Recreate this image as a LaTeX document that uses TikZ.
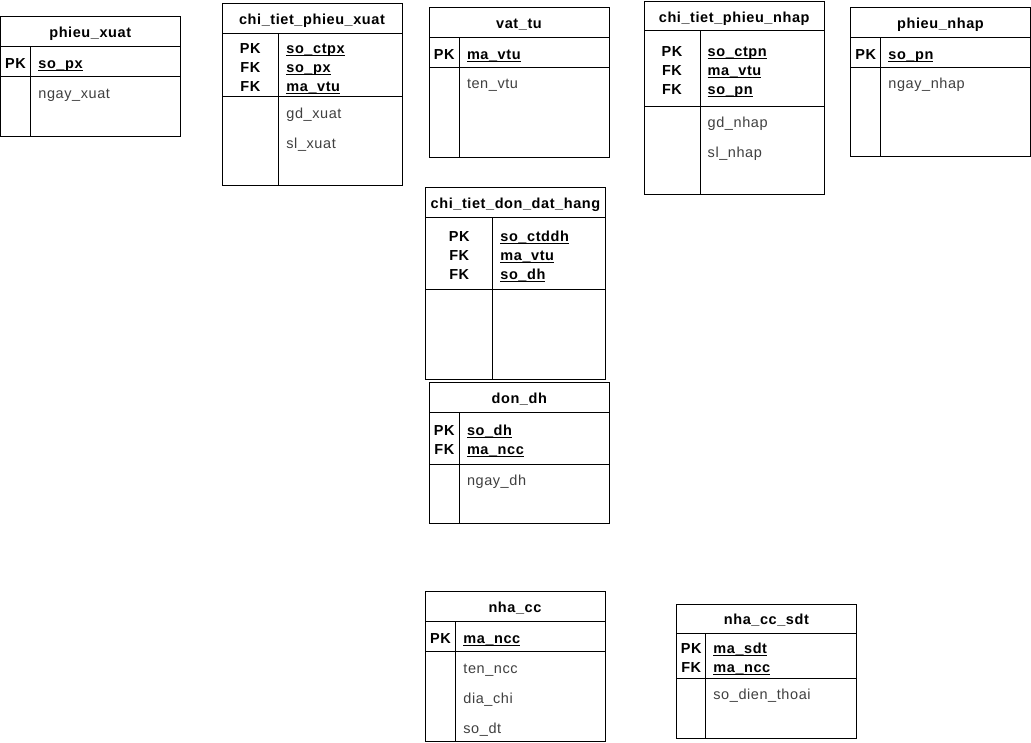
\documentclass[tikz,border=0pt]{standalone}
\usepackage{fontspec}
\setmainfont{Liberation Sans}
\newfontfamily\erfont{Liberation Sans}[LetterSpace=4]
\definecolor{attrgray}{HTML}{404040}
\newcommand\ulkey[1]{\setbox0\hbox{#1}\rlap{\rule[-2.5pt]{\wd0}{0.95pt}}\box0}
\newcommand\erframe[7]{% L R T H K B D
  \draw[frame] (#1,#3) rectangle (#2,#6);
  \draw[frame] (#1,#4) -- (#2,#4);
  \draw[frame] (#1,#5) -- (#2,#5);
  \draw[frame] (#7,#4) -- (#7,#6);
}
\tikzset{
  frame/.style={draw=black, line width=1pt},
  erbase/.style={inner sep=0pt, yshift=-1.2pt},
  ertitle/.style={erbase, anchor=base, font=\erfont\fontsize{14.5}{17}\selectfont\bfseries},
  erkey/.style={erbase, anchor=base, font=\erfont\fontsize{14.5}{17}\selectfont\bfseries},
  erkeyattr/.style={erbase, anchor=base west, font=\erfont\fontsize{14.5}{17}\selectfont\bfseries},
  erattr/.style={erbase, yshift=-0.6pt, anchor=base west, text=attrgray, font=\erfont\fontsize{14.5}{17}\selectfont},
}
\begin{document}
\begin{tikzpicture}[x=1pt,y=-1pt]
\useasboundingbox[fill=white] (0,0) rectangle (1031,742);

% phieu_xuat
\erframe{0.5}{180}{16.5}{46}{76}{136}{30.7}
\node[ertitle] (t1) at (90.25,36.0) {phieu\_xuat};
\node[erkey] (t1k1) at (15.6,66.8) {PK};
\node[erkeyattr] (t1a1) at (38.2,66.8) {\ulkey{so\_px}};
\node[erattr] (t1b1) at (38.2,96.3) {ngay\_xuat};

% chi_tiet_phieu_xuat
\erframe{222}{402}{3.3}{33}{96.7}{185.7}{278.7}
\node[ertitle] (t2) at (312,23) {chi\_tiet\_phieu\_xuat};
\node[erkey] (t2k1) at (250.3,51.8) {PK};
\node[erkey] (t2k2) at (250.3,70.8) {FK};
\node[erkey] (t2k3) at (250.3,89.8) {FK};
\node[erkeyattr] (t2a1) at (286.2,51.8) {\ulkey{so\_ctpx}};
\node[erkeyattr] (t2a2) at (286.2,70.8) {\ulkey{so\_px}};
\node[erkeyattr] (t2a3) at (286.2,89.8) {\ulkey{ma\_vtu}};
\node[erattr] (t2b1) at (286.2,116.5) {gd\_xuat};
\node[erattr] (t2b2) at (286.2,146.5) {sl\_xuat};

% vat_tu
\erframe{429}{609}{7.5}{37.3}{67.3}{157.3}{459.3}
\node[ertitle] (t3) at (519,27.2) {vat\_tu};
\node[erkey] (t3k1) at (444.2,58.1) {PK};
\node[erkeyattr] (t3a1) at (466.8,58.1) {\ulkey{ma\_vtu}};
\node[erattr] (t3b1) at (466.8,87.1) {ten\_vtu};

% chi_tiet_phieu_nhap
\erframe{644}{824.3}{1.2}{30.7}{106}{194.5}{700}
\node[ertitle] (t4) at (734.2,20.8) {chi\_tiet\_phieu\_nhap};
\node[erkey] (t4k1) at (672,55.1) {PK};
\node[erkey] (t4k2) at (672,74.1) {FK};
\node[erkey] (t4k3) at (672,93.1) {FK};
\node[erkeyattr] (t4a1) at (707.5,55.1) {\ulkey{so\_ctpn}};
\node[erkeyattr] (t4a2) at (707.5,74.1) {\ulkey{ma\_vtu}};
\node[erkeyattr] (t4a3) at (707.5,93.1) {\ulkey{so\_pn}};
\node[erattr] (t4b1) at (707.5,125.8) {gd\_nhap};
\node[erattr] (t4b2) at (707.5,155.8) {sl\_nhap};

% phieu_nhap
\erframe{850.7}{1030.3}{7.3}{37.3}{67.3}{156.5}{880.7}
\node[ertitle] (t5) at (940.5,27.1) {phieu\_nhap};
\node[erkey] (t5k1) at (865.7,58.1) {PK};
\node[erkeyattr] (t5a1) at (888.2,58.1) {\ulkey{so\_pn}};
\node[erattr] (t5b1) at (888.2,87.1) {ngay\_nhap};

% chi_tiet_don_dat_hang
\erframe{425.7}{605.3}{187.3}{217.3}{289}{379}{492.7}
\node[ertitle] (t6) at (515.5,207.1) {chi\_tiet\_don\_dat\_hang};
\node[erkey] (t6k1) at (459.2,239.8) {PK};
\node[erkey] (t6k2) at (459.2,258.8) {FK};
\node[erkey] (t6k3) at (459.2,277.8) {FK};
\node[erkeyattr] (t6a1) at (500.2,239.8) {\ulkey{so\_ctddh}};
\node[erkeyattr] (t6a2) at (500.2,258.8) {\ulkey{ma\_vtu}};
\node[erkeyattr] (t6a3) at (500.2,277.8) {\ulkey{so\_dh}};

% don_dh
\erframe{429.3}{609.3}{382}{412.3}{464}{523.3}{459.3}
\node[ertitle] (t7) at (519.3,402) {don\_dh};
\node[erkey] (t7k1) at (444.3,433.8) {PK};
\node[erkey] (t7k2) at (444.3,452.8) {FK};
\node[erkeyattr] (t7a1) at (466.8,433.8) {\ulkey{so\_dh}};
\node[erkeyattr] (t7a2) at (466.8,452.8) {\ulkey{ma\_ncc}};
\node[erattr] (t7b1) at (466.8,484) {ngay\_dh};

% nha_cc
\erframe{425}{605}{591.7}{621.7}{651.5}{741.2}{455.7}
\node[ertitle] (t8) at (515,611.5) {nha\_cc};
\node[erkey] (t8k1) at (440.4,642.3) {PK};
\node[erkeyattr] (t8a1) at (463.2,642.3) {\ulkey{ma\_ncc}};
\node[erattr] (t8b1) at (463.2,671.3) {ten\_ncc};
\node[erattr] (t8b2) at (463.2,701.3) {dia\_chi};
\node[erattr] (t8b3) at (463.2,731.3) {so\_dt};

% nha_cc_sdt
\erframe{676.7}{856}{604}{633.3}{678.3}{738}{705.7}
\node[ertitle] (t9) at (766.4,623.5) {nha\_cc\_sdt};
\node[erkey] (t9k1) at (691.2,652.3) {PK};
\node[erkey] (t9k2) at (691.2,671.3) {FK};
\node[erkeyattr] (t9a1) at (713.2,652.3) {\ulkey{ma\_sdt}};
\node[erkeyattr] (t9a2) at (713.2,671.3) {\ulkey{ma\_ncc}};
\node[erattr] (t9b1) at (713.2,698.1) {so\_dien\_thoai};
\end{tikzpicture}
\end{document}
